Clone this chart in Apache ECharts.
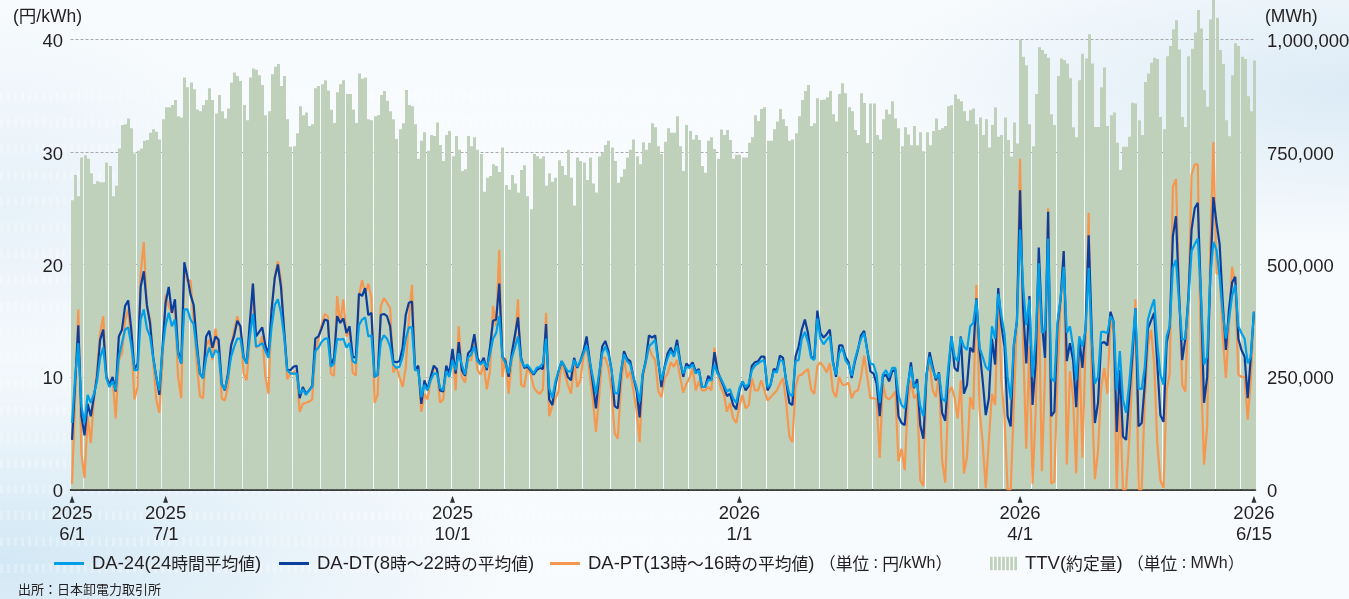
<!DOCTYPE html>
<html lang="ja"><head><meta charset="utf-8"><title>JEPX</title>
<script src="https://cdn.jsdelivr.net/npm/echarts@6/dist/echarts.min.js"></script>
<style>
html,body{margin:0;padding:0;width:1349px;height:599px;overflow:hidden}
body{position:relative;background:
 radial-gradient(520px 210px at 0px 560px,#d3e8f5 0%,rgba(211,232,245,0) 100%),
 radial-gradient(500px 160px at 1349px 90px,#dcebf6 0%,rgba(220,235,246,0) 100%),
 radial-gradient(260px 200px at 0px 200px,#e6f1f9 0%,rgba(230,241,249,0) 100%),
 #f8fbfd}
#tex{position:absolute;left:0;top:90px;width:760px;height:509px;opacity:.28;
 background:repeating-linear-gradient(90deg,#fff 0 3px,transparent 3px 7px);
 -webkit-mask-image:repeating-linear-gradient(180deg,transparent 0 14px,#000 14px 23px,transparent 23px 26.2px),linear-gradient(90deg,#000 0,#000 45%,transparent 100%);
 -webkit-mask-composite:source-in;mask-composite:intersect;
 -webkit-mask-position:0 -12px,0 0}
#c{position:absolute;left:0;top:0;width:1349px;height:599px}
</style></head><body><div id="tex"></div><div id="c"></div>
<script>
const dayCount = 380;
const tickDates = ['2025-06-01','2025-07-01','2025-10-01','2026-01-01','2026-04-01','2026-06-15'];
const tickLabels = ['2025\n6/1','2025\n7/1','2025\n10/1','2026\n1/1','2026\n4/1','2026\n6/15'];

const da24 = [
5.9,10,13,7.4,5.9,8.4,7.7,8.5,9.6,11.7,
12.6,9.9,9.1,9.6,8.8,11.8,13,14.2,14.4,12.8,
10.6,10.6,15.1,16,14.3,13.6,11.7,10,8.8,12.4,
14.6,15.7,14.5,15.1,12,11.2,16,16,15.1,14.7,
12.4,10.3,9.9,11.7,12.6,11.7,12.4,12.1,9.3,8.9,
10,11.8,12.7,13.4,13.4,11.7,11.2,13.6,15.6,12.7,
12.8,13,12.3,11.7,14.5,16.4,16.9,15.7,13.6,10.6,
10.3,10.3,10.3,8.5,8.9,8.4,8.8,9.1,12.3,12.6,
13.1,13.4,13.4,10.9,11.2,13.4,13.3,13.4,12.6,13,
11.4,11.2,14.6,15.1,15.3,13.6,13.7,10,10.2,13.1,
13.7,13.4,12.7,11.1,10.8,10.9,11.8,13.4,14.4,14.4,
10.6,10.6,8.2,9.3,8.8,9.7,10.3,10.3,9,8.8,
10.5,10,11.5,10.6,12.1,11.1,10.2,11.7,12,12.7,
11.4,11.1,11.4,10.8,12,13.4,13.9,15.4,11.8,11.2,
10.3,11.7,12.6,13.6,11.5,10.9,11.1,10.7,10.3,10.8,
10.9,11.2,13.4,9,8.1,9.6,10.5,11.4,10.9,10.5,
10.5,11.5,10.9,11.4,12.1,12.8,11.4,10,8.5,10.3,
12.1,12.7,12,10.6,8.6,8.5,10.5,12,11.4,11.1,
10,9.1,7.8,10.3,11.4,12.7,13,13.3,11.2,9.7,
10.8,11.7,12.3,11.8,12.8,11.2,10.3,10.9,10.8,11.1,
10.3,10.6,9.1,9.1,9.7,9.7,11.1,10.3,9.9,9.3,
8.7,8.9,8.1,7.7,9,9.6,9.1,9.4,10.6,11,
11.2,11.4,11.5,9.1,9.3,10.5,10.4,11.5,11.4,9.7,
8.5,8.3,11.4,11.5,13.4,14,13.1,11.7,11.5,15.2,
13.4,12.9,13.3,13.6,11.2,10.2,12.1,12.6,11.5,11.1,
10.1,11.5,12.5,13.4,13.9,12.3,11.2,11.1,10.2,7.7,
10.2,10.6,10,10.8,10.8,8.4,7.5,7.2,9.3,10.9,
9.1,9.4,7.4,6.5,10.2,11.8,10.6,9.9,10.3,8.1,
7.8,10.9,13.6,11.8,11.4,13.5,12.7,12.4,14.5,14.8,
16.9,12.6,11.8,10.9,10.6,14.5,13.4,17.4,15.5,13.9,
10,8,12.8,15,23.1,18,14.6,16.9,10,13.4,
20.1,13.9,14.2,22.3,9.9,9.6,14.9,17,19.8,13.9,
14.5,12.7,9.7,13.6,12.7,14.2,19.7,13,9.4,10,
14,14,13.9,15.4,14.9,8.8,12.3,8,6.8,9.4,
12.7,16.1,9,8.9,10.9,15.1,16.1,16.9,13,10.2,
9.3,13.6,14.5,19.7,20.4,16.6,13.3,13.4,16.9,21.2,
21.8,22.3,17.4,11.1,11.8,18.9,22,21.3,18.9,15.7,
13.4,15.1,17.2,18.2,14.5,13.9,13.4,11.2,11.8,15.8];

const daDt = [
4.4,9.5,14.6,6.5,4.8,7.6,6.5,8.2,10,13.3,
14.2,10,9.3,10,8.7,13.6,14.2,16.3,16.8,14.2,
10.6,11.2,18,19.4,16.4,14.8,11.8,10,8.4,12.7,
16.6,18,15.7,16.9,12.3,11.2,20.2,18.9,17.3,16.4,
13,10.3,9.9,13.6,14.1,12.6,13.6,13.3,9.4,8.8,
10.3,12.8,13.7,15,14.5,11.8,11.2,14.8,18.3,13.6,
14,14.4,12.8,12,16,18.8,20,18,14.2,10.6,
10.6,10.9,11,8.1,9.1,8.5,8.8,9.2,13.4,13.6,
14.3,15.1,15,11,11.7,15.4,14.8,15.2,13.9,14.5,
11.8,11.7,17.4,17.2,17.9,15.5,15.7,10,10.2,15.5,
15.6,15.4,14.5,11.4,11.3,11.4,12.6,15.5,16.6,16.7,
10.6,11,7.6,9.7,8.9,10,11,10.7,8.8,8.7,
11,10.3,12.5,10.3,13.1,10.6,10.1,12.1,12.4,13.8,
11.7,11.1,11.7,10.6,12.6,15,15.1,18.3,11.8,11.4,
10,12.1,13.7,15.3,11.7,10.8,10.9,10.6,10.2,10.6,
10.8,10.7,14.7,8,7.5,9.3,10.5,11.4,10.9,10,
9.7,11.7,10.8,11.4,12.3,13.6,11.5,9.4,7.2,10,
12.7,13.2,12.3,10.6,7.4,7.2,10.3,12.3,11.6,11.4,
10,8.8,6.4,10.2,11.5,13.7,13.5,13.7,11.4,9.1,
10.9,12.1,12.6,11.9,13.3,11.4,10,11.2,10.9,11.3,
10.5,10.7,9.1,9.1,10.1,9.7,12.2,10.5,9.8,9.1,
8.3,8.5,7.5,7.1,8.8,9.6,8.8,9.2,11,11.3,
11.4,11.8,11.8,8.8,9.3,10.7,10.6,11.9,11.7,9.6,
7.7,7.5,11.8,12.7,14.2,15.1,13.9,11.8,11.6,15.9,
13.9,13.5,13.8,14.2,11.4,10,12.8,12.8,11.8,11.3,
9.9,11.3,12.4,13.7,14.1,12.4,10.5,10.3,9.4,6.5,
10,10.2,9.6,10.5,10.6,6.5,5.9,5.7,9.1,11.3,
9,9.8,5.7,4.5,10.2,12.2,10.9,9.7,10.4,6.8,
6.1,10.2,13.6,10.8,10.5,13.6,8.5,9.3,12.6,12.2,
17,12.4,9.7,6.6,8.1,13.4,11.1,17.9,14.6,12.7,
6.5,5.6,12.8,15,26.6,16,11.2,17.2,7.5,11.2,
21.5,14.8,11.7,24.7,6.5,6.9,14.5,16.9,21.2,11.4,
13,11.5,7.3,13.4,10.8,14.5,22.6,13.9,5.9,7.7,
13,13.1,12.8,15.8,14.9,5.1,10.6,4.7,4.4,8.2,
11.8,16.1,5.6,5.9,9.4,14.3,15,15.7,11.2,6.6,
6,13,14.5,22.5,24.3,17.2,11.5,13.4,17.2,23.1,
25,25.5,17.2,7.7,10,18.9,26,23.7,21.8,16.6,
12.4,16,18.4,18.9,13.4,12.4,11.8,8.1,11.8,15.8];

const daPt = [
0.5,8.2,16,3.2,1,6.5,4.1,8,10.6,13.9,
15.4,10,9.3,9.9,6.3,11.5,12.1,15,16,13.3,
8,9.1,19.2,22,16.1,15.2,11.5,8,6.8,11.2,
17.3,16.3,15.7,16,10,8.1,19.8,18.5,18.6,15.1,
11.2,8.3,8.1,12.8,13.3,11.5,14.3,12.7,8.1,7.9,
9.1,12.7,14.2,15.4,14.2,10.3,9.7,13.3,18.3,12.6,
12.8,13.6,10,8.5,16,18.9,20.3,18.6,13.9,9.8,
10.3,10.4,10.5,6.9,7.6,7.7,7.8,8,12.1,13.4,
14.6,15.6,15.4,10.3,10.1,17.2,14.8,16.9,13.6,14.2,
10.4,10.1,17.2,18.6,17.4,18.3,17,7.7,8.4,16.3,
17,16.6,16.1,10.4,10.9,10,9.1,10.8,15.1,18.2,
10.6,10.9,6.9,8.5,8,9.7,10.9,10.6,7.7,8,
10.6,10.2,12.3,8.8,14.5,10,9.5,11.5,11.5,13.1,
10.6,10.2,11.1,8.9,10.5,16.3,14.5,21.3,10,11.7,
8.5,11.5,12.8,16.9,9.3,9.1,10.8,10.3,9.1,8.7,
8.5,8.9,15.7,6.5,7.4,8.1,8.7,11.4,10.3,9.3,
8.5,11.4,9.1,9.7,11.8,12.8,10.2,8,5.1,8.2,
11.7,11.7,10.8,8.8,5,4.5,9.1,11.7,9.9,10.5,
8.8,7.1,4.2,10,11.2,12.7,11.9,11.5,8.7,8.2,
9.9,10.3,11.3,10.9,11.5,10,8.6,9.4,9.9,10.8,
8.8,9.6,8.8,8.8,9.1,8.8,12.6,10.3,9.1,8.5,
6.9,7.7,6.3,5.9,7.4,8.4,7.2,7.5,9.9,8.8,
8.8,9.7,8.8,7.9,8.2,8.5,8.8,9.4,9.9,7.7,
4.7,4.2,9.1,10.1,10.2,10.5,10.7,8.9,8.5,11,
11.3,10.9,10.4,11.2,8.7,8.2,10,9.3,9.3,9.5,
8.1,8.7,8.8,10,11.9,10,8.1,8.1,8,2.8,
9.4,8.2,8,8.3,8.7,2.5,3.6,1.7,7.7,9.7,
8.1,8.5,0.8,0.3,10.2,11.2,8.8,8.2,10.2,2.6,
0.6,8.5,9.1,8.2,6.3,9.7,1.4,2.9,8.2,7.1,
18.2,7.1,4.2,0.1,4.4,8.5,7.5,17.2,9.7,6.5,
0,0,7.4,15,29.4,12.7,3.6,12.7,0.5,6.8,
17.2,1.6,10.3,25,0.5,0.7,10,16.6,21.2,2.2,
10.5,8.2,1.4,13,2.8,12.7,24.6,8.2,0.9,3.4,
9,10.8,8.5,15.2,13.9,0,8.2,0,0,4.4,
10.3,16.9,0,0,8,12.7,14.2,11.2,4.1,0.8,
0.1,8.8,10.3,26.9,27.6,17.7,9.3,8.7,16.6,28,
28.9,28.9,10.6,2.2,5.6,21.3,30.9,19.2,19.2,13.6,
9.9,14.5,19.8,18.2,10.2,10,10,6.2,9.7,15.8];

const ttv = [
643000,699000,652000,738000,743000,735000,703000,679000,685000,683000,
683000,727000,719000,652000,675000,758000,810000,812000,825000,803000,
747000,753000,758000,775000,777000,793000,801000,795000,778000,823000,
850000,850000,855000,866000,830000,827000,916000,894000,905000,890000,
845000,841000,855000,866000,892000,866000,836000,877000,841000,825000,
847000,905000,927000,919000,908000,855000,821000,916000,936000,933000,
921000,899000,832000,841000,923000,940000,946000,897000,919000,823000,
762000,763000,792000,852000,832000,838000,808000,812000,892000,897000,
901000,910000,887000,844000,815000,883000,901000,910000,879000,879000,
845000,815000,925000,913000,916000,823000,821000,830000,832000,877000,
886000,864000,841000,823000,779000,801000,814000,888000,855000,852000,
812000,735000,775000,794000,753000,788000,786000,816000,766000,730000,
788000,797000,741000,786000,755000,708000,712000,786000,763000,783000,
755000,746000,662000,693000,697000,723000,719000,706000,760000,677000,
666000,699000,680000,660000,710000,721000,652000,623000,746000,741000,
735000,741000,675000,703000,684000,693000,732000,719000,699000,755000,
693000,631000,738000,730000,727000,688000,738000,680000,660000,740000,
749000,766000,775000,760000,730000,682000,695000,712000,738000,755000,
778000,741000,723000,772000,755000,771000,814000,805000,763000,746000,
773000,803000,793000,793000,830000,763000,708000,810000,797000,778000,
788000,777000,719000,704000,775000,783000,757000,735000,800000,788000,
799000,777000,735000,744000,744000,738000,738000,771000,783000,832000,
819000,846000,850000,775000,775000,801000,818000,846000,823000,808000,
775000,778000,792000,830000,866000,886000,899000,808000,814000,870000,
866000,867000,872000,886000,834000,818000,879000,903000,881000,850000,
841000,799000,788000,881000,859000,770000,858000,858000,788000,778000,
823000,845000,834000,863000,825000,803000,763000,805000,789000,765000,
808000,765000,794000,752000,794000,765000,797000,825000,799000,803000,
808000,852000,854000,878000,868000,863000,841000,820000,843000,847000,
812000,827000,788000,823000,760000,810000,849000,784000,788000,827000,
777000,740000,816000,769000,1000000,962000,943000,812000,763000,879000,
983000,977000,969000,960000,834000,810000,919000,958000,955000,947000,
914000,805000,783000,910000,969000,958000,1012000,947000,806000,806000,
894000,938000,808000,832000,838000,771000,710000,762000,762000,784000,
860000,858000,821000,788000,906000,925000,949000,960000,957000,828000,
801000,963000,986000,1023000,1043000,978000,828000,806000,963000,980000,
1016000,1066000,1025000,888000,851000,1045000,1090000,1049000,977000,946000,
821000,785000,921000,992000,986000,962000,957000,874000,841000,954000];

const categories = [];
{ const d0 = Date.UTC(2025,5,1);
  for (let i=0;i<dayCount;i++) categories.push(new Date(d0+i*864e5).toISOString().slice(0,10)); }

const C24='#00a0e9', CDT='#0b3f9e', CPT='#f5974f', CTTV='#bfd1bb';
const LATIN='"Liberation Sans",Arial,sans-serif', CJK='"Noto Sans CJK JP",sans-serif';
const TXT='#231f20';

function rich(s,latin){
  return s.match(/：|[\x20-\x7e]+|[^\x20-\x7e：]+/g).map(p=>p==='：'?`{k|${p}}`:/^[\x20-\x7e]/.test(p)?`{${latin}|${p}}`:`{c|${p}}`).join('');
}
const richStyles={
  l:{fontFamily:LATIN,fontSize:18.5,color:TXT,lineHeight:22},
  u:{fontFamily:LATIN,fontSize:16,color:TXT,lineHeight:22},
  c:{fontFamily:CJK,fontSize:16.8,color:TXT,lineHeight:22},
  k:{fontFamily:CJK,fontSize:13,color:TXT,lineHeight:22}};
function legendOf(name,left,w,h,icon,suffix){
  return {show:true,left,top:554,itemWidth:w,itemHeight:h,itemGap:0,padding:0,icon,selectedMode:false,
    data:[name],formatter:n=>rich(n,'l')+(suffix?rich(suffix,'u'):''),textStyle:{rich:richStyles,padding:[0,0,0,3]}};
}
const N24='DA-24(24時間平均値)',NDT='DA-DT(8時～22時の平均値)',NPT='DA-PT(13時～16時の平均値)',NT='TTV(約定量)';
const stripes='path://M0 0h2v10H0zM3 0h2v10H3zM6 0h2v10H6zM9 0h2v10H9zM12 0h2v10h-2zM15 0h2v10h-2zM18 0h2v10h-2z';
const axisRich={a:{color:TXT,fontFamily:LATIN,fontSize:18.5,padding:[5,0,0,0]}};

const chart=echarts.init(document.getElementById('c'),null,{renderer:'canvas'});
chart.setOption({
  animation:false,backgroundColor:'transparent',
  grid:{left:70.5,width:1185,top:39.7,height:449.6,containLabel:false,outerBoundsMode:'none'},
  legend:[
    legendOf(N24,54,30,3,'rect'),
    legendOf(NDT,279,30,3,'rect'),
    legendOf(NPT,550,30,3,'rect',' （単位：円/kWh）'),
    legendOf(NT,990,27,14,stripes,' （単位：MWh）')
  ],
  xAxis:{type:'category',data:categories,boundaryGap:true,
    axisLine:{lineStyle:{color:'#000',width:1.5}},axisTick:{show:false},splitLine:{show:false},
    axisLabel:{interval:(i,v)=>tickDates.includes(v),formatter:v=>tickLabels[tickDates.indexOf(v)]||'',
      color:TXT,fontFamily:LATIN,fontSize:18.5,lineHeight:21,margin:14,hideOverlap:false,showMinLabel:true,showMaxLabel:true}},
  yAxis:[
    {type:'value',min:0,max:40,interval:10,axisLine:{show:false},axisTick:{show:false},
      splitLine:{show:true,lineStyle:{color:'#a9a9a9',type:[3,2],width:1}},
      axisLabel:{margin:7.5,formatter:v=>`{a|${v}}`,rich:axisRich}},
    {type:'value',min:0,max:1000000,interval:250000,position:'right',axisLine:{show:false},axisTick:{show:false},
      splitLine:{show:false},
      axisLabel:{margin:11.5,formatter:v=>`{a|${v.toLocaleString('en-US')}}`,rich:axisRich}}
  ],
  graphic:[
    {type:'text',left:13,top:8,style:{text:'(円/kWh)',fill:TXT,font:'17.5px "Liberation Sans","Noto Sans CJK JP"'}},
    {type:'text',left:1265,top:8,style:{text:'(MWh)',fill:TXT,font:'17.5px "Liberation Sans","Noto Sans CJK JP"'}},
    {type:'text',left:18,top:583,style:{text:'出所：日本卸電力取引所',fill:TXT,font:'13px "Noto Sans CJK JP"'}}
  ],
  series:[
    {name:NT,type:'custom',yAxisIndex:1,z:1,clip:false,itemStyle:{color:CTTV},silent:true,
      data:categories.map((c,i)=>[c,ttv[i]]),
      encode:{x:0,y:1},
      renderItem(p,api){
        const top=api.coord([api.value(0),api.value(1)]), base=api.coord([api.value(0),0]);
        const x=Math.round(top[0]-0.96);
        return {type:'rect',shape:{x,y:top[1],width:3,height:base[1]-top[1]},style:{fill:CTTV}};
      }},
    {name:NPT,type:'line',z:3,data:daPt,showSymbol:false,color:CPT,lineStyle:{width:2.2,color:CPT},itemStyle:{color:CPT}},
    {name:NDT,type:'line',z:4,data:daDt,showSymbol:false,color:CDT,lineStyle:{width:2.2,color:CDT},itemStyle:{color:CDT}},
    {name:N24,type:'line',z:5,data:da24,showSymbol:false,color:C24,lineStyle:{width:2.2,color:C24},itemStyle:{color:C24}},
    {name:'ticks',type:'scatter',z:6,clip:false,silent:true,symbol:'triangle',symbolSize:[5,7],symbolOffset:[0,10],
      itemStyle:{color:'#000'},data:tickDates.map(d=>[d,0])}
  ]
});
</script></body></html>
